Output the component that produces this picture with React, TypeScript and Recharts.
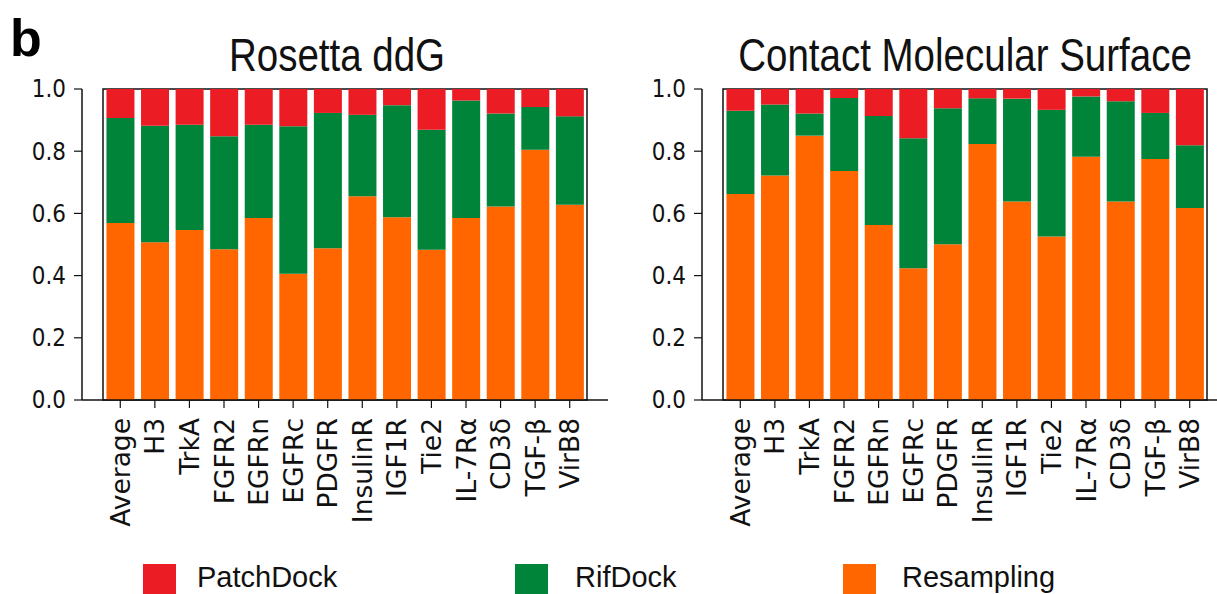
import { BarChart, Bar, XAxis, YAxis, ReferenceArea } from 'recharts';

const targets = [
  'Average', 'H3', 'TrkA', 'FGFR2', 'EGFRn', 'EGFRc', 'PDGFR',
  'InsulinR', 'IGF1R', 'Tie2', 'IL-7Rα', 'CD3δ', 'TGF-β', 'VirB8',
];

// Rosetta ddG
const ddgResampling = [0.569, 0.507, 0.547, 0.485, 0.585, 0.406, 0.488, 0.655, 0.588, 0.483, 0.585, 0.622, 0.805, 0.628];
const ddgRifDock = [0.338, 0.375, 0.338, 0.363, 0.300, 0.474, 0.435, 0.262, 0.360, 0.386, 0.378, 0.299, 0.137, 0.284];
const ddgPatchDock = [0.093, 0.118, 0.115, 0.152, 0.115, 0.120, 0.077, 0.083, 0.052, 0.131, 0.037, 0.079, 0.058, 0.088];

// Contact Molecular Surface
const cmsResampling = [0.662, 0.722, 0.850, 0.736, 0.563, 0.424, 0.501, 0.823, 0.638, 0.526, 0.782, 0.638, 0.775, 0.617];
const cmsRifDock = [0.268, 0.228, 0.071, 0.235, 0.350, 0.418, 0.437, 0.147, 0.331, 0.407, 0.194, 0.323, 0.148, 0.202];
const cmsPatchDock = [0.070, 0.050, 0.079, 0.029, 0.087, 0.158, 0.062, 0.030, 0.031, 0.067, 0.024, 0.039, 0.077, 0.181];

const yTicks = [0, 0.2, 0.4, 0.6, 0.8, 1.0];

const RED = '#ec1c24';
const GREEN = '#00843a';
const ORANGE = '#ff6600';

const legendItems = [
  { label: 'PatchDock', color: RED, box: 143, text: 197 },
  { label: 'RifDock', color: GREEN, box: 515, text: 575 },
  { label: 'Resampling', color: ORANGE, box: 843, text: 902 },
];

const TICK_FONT = '"DejaVu Sans", sans-serif';
const SANS = '"Liberation Sans", Arial, sans-serif';

function YTick(props: any) {
  const { x, y, payload } = props;
  return (
    <g transform={`translate(${x},${y}) scale(1,1.12)`}>
      <text x={0} y={0} textAnchor="end" dominantBaseline="central" fontSize={21.5} fontFamily={TICK_FONT} fill="#111">
        {Number(payload.value).toFixed(1)}
      </text>
    </g>
  );
}

function XTick(props: any) {
  const { x, y, payload } = props;
  return (
    <g transform={`translate(${x},${y}) rotate(-90)`}>
      <text x={0} y={0} textAnchor="end" dominantBaseline="central" fontSize={26.5} fontFamily={TICK_FONT} fill="#111">
        {payload.value}
      </text>
    </g>
  );
}

function StackPanel({ resampling, rifdock, patchdock }: { resampling: number[]; rifdock: number[]; patchdock: number[] }) {
  const data = targets.map((name, i) => ({
    name,
    Resampling: resampling[i],
    RifDock: rifdock[i],
    PatchDock: patchdock[i],
  }));
  const axisLine = { stroke: '#111', strokeWidth: 1.5 };
  return (
    <BarChart
      width={620}
      height={550}
      data={data}
      margin={{ top: 89, right: 12, bottom: 0, left: 0 }}
      barCategoryGap="10%"
    >
      <XAxis
        dataKey="name"
        interval={0}
        height={150}
        padding={{ left: 21, right: 21 }}
        tickSize={8}
        tickMargin={10}
        axisLine={axisLine}
        tickLine={{ stroke: '#111', strokeWidth: 1.2 }}
        tick={<XTick />}
      />
      <YAxis
        domain={[0, 1]}
        ticks={yTicks}
        width={82}
        tickSize={8}
        tickMargin={8}
        axisLine={axisLine}
        tickLine={{ stroke: '#111', strokeWidth: 1.2 }}
        tick={<YTick />}
        allowDataOverflow
      />
      <Bar dataKey="Resampling" stackId="a" fill={ORANGE} isAnimationActive={false} />
      <Bar dataKey="RifDock" stackId="a" fill={GREEN} isAnimationActive={false} />
      <Bar dataKey="PatchDock" stackId="a" fill={RED} isAnimationActive={false} />
      <ReferenceArea y1={0} y2={1} fill="none" fillOpacity={0} stroke="#111" strokeWidth={1.5} ifOverflow="visible" />
    </BarChart>
  );
}

const titleStyle = {
  position: 'absolute' as const,
  top: 40,
  textAlign: 'center' as const,
  fontFamily: SANS,
  fontSize: 38.5,
  lineHeight: 1,
  transform: 'scaleY(1.2)',
  transformOrigin: 'center bottom',
  color: '#111',
};

export default function App() {
  return (
    <div style={{ position: 'absolute', left: 0, top: 0, width: 1217, height: 594, overflow: 'hidden', background: '#fff' }}>
      <div style={{ position: 'absolute', left: 10, top: 12, fontFamily: SANS, fontWeight: 700, fontSize: 52, lineHeight: 1 }}>b</div>
      <div style={{ ...titleStyle, left: 62, width: 550 }}>Rosetta ddG</div>
      <div style={{ ...titleStyle, left: 690, width: 550 }}>Contact Molecular Surface</div>
      <div style={{ position: 'absolute', left: 0, top: 0 }}>
        <StackPanel resampling={ddgResampling} rifdock={ddgRifDock} patchdock={ddgPatchDock} />
      </div>
      <div style={{ position: 'absolute', left: 620, top: 0 }}>
        <StackPanel resampling={cmsResampling} rifdock={cmsRifDock} patchdock={cmsPatchDock} />
      </div>
      {legendItems.map((it) => (
        <div key={it.label}>
          <div style={{ position: 'absolute', left: it.box, top: 564, width: 33, height: 30, background: it.color }} />
          <div style={{ position: 'absolute', left: it.text, top: 563, fontFamily: SANS, fontSize: 29, lineHeight: 1, color: '#111' }}>
            {it.label}
          </div>
        </div>
      ))}
    </div>
  );
}
